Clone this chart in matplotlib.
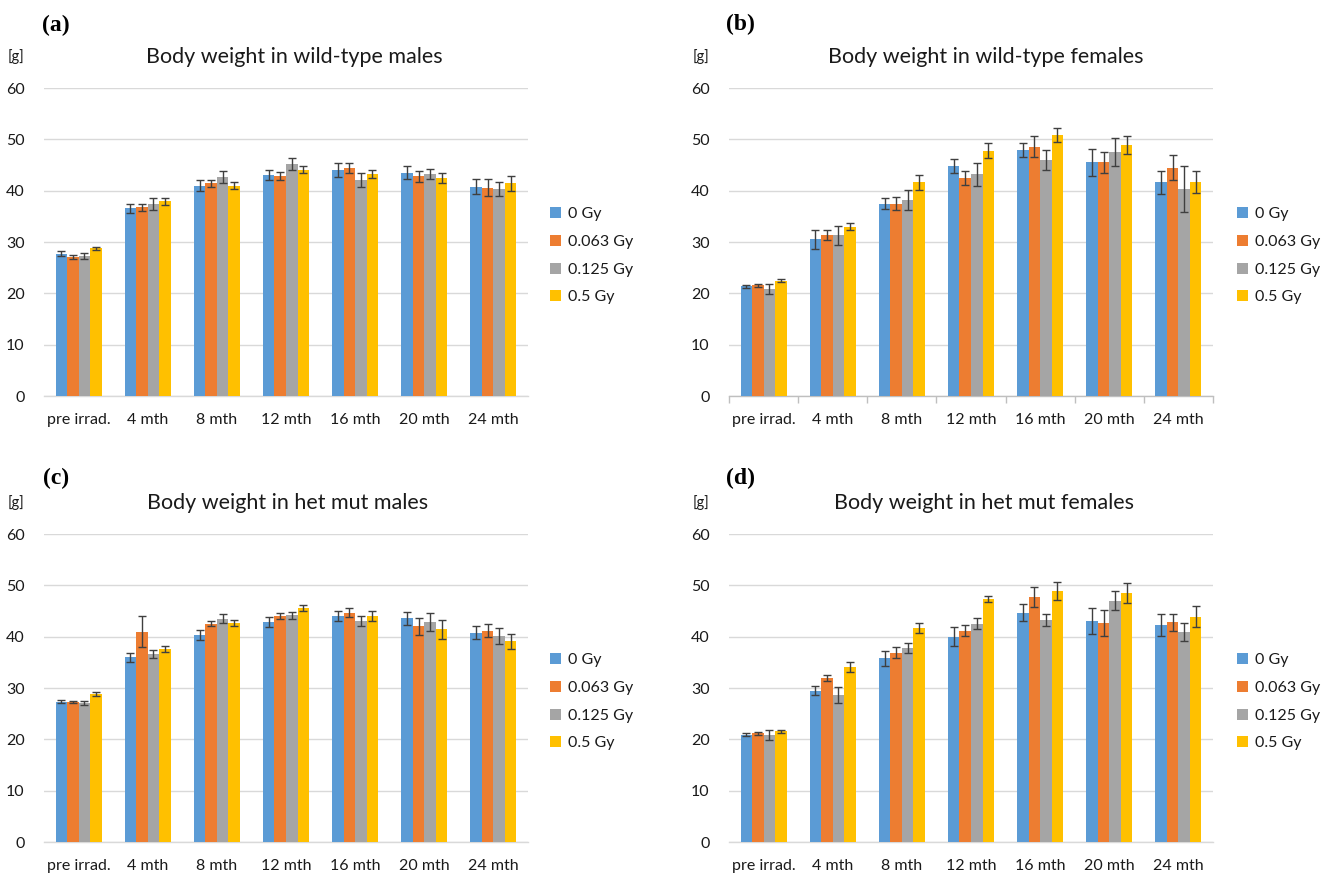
import matplotlib
matplotlib.use("Agg")
import matplotlib.pyplot as plt
import numpy as np

plt.rcParams['font.family'] = ['Lato', 'DejaVu Sans']

categories = ["pre irrad.", "4 mth", "8 mth", "12 mth", "16 mth", "20 mth", "24 mth"]
doses = ["0 Gy", "0.063 Gy", "0.125 Gy", "0.5 Gy"]
colors = ["#5B9BD5", "#ED7D31", "#A5A5A5", "#FFC000"]

# (a) wild-type males
wt_m_0 = [27.7, 36.6, 41.0, 43.0, 44.0, 43.5, 40.8]
wt_m_063 = [27.1, 36.8, 41.4, 42.9, 44.4, 42.8, 40.6]
wt_m_125 = [27.3, 37.4, 42.7, 45.2, 42.1, 43.2, 40.3]
wt_m_5 = [28.8, 37.9, 41.0, 44.1, 43.2, 42.5, 41.4]
wt_m_err_0 = [0.5, 0.9, 1.0, 1.0, 1.3, 1.3, 1.5]
wt_m_err_063 = [0.4, 0.7, 0.6, 0.8, 1.0, 1.1, 1.7]
wt_m_err_125 = [0.6, 1.2, 1.2, 1.2, 1.3, 1.0, 1.4]
wt_m_err_5 = [0.3, 0.6, 0.6, 0.7, 0.8, 1.0, 1.4]

# (b) wild-type females
wt_f_0 = [21.4, 30.5, 37.5, 44.8, 47.9, 45.5, 41.6]
wt_f_063 = [21.6, 31.4, 37.5, 42.5, 48.6, 45.5, 44.5]
wt_f_125 = [20.8, 31.3, 38.2, 43.2, 46.0, 47.5, 40.3]
wt_f_5 = [22.5, 33.0, 41.6, 47.8, 50.8, 48.9, 41.7]
wt_f_err_0 = [0.3, 1.8, 1.0, 1.4, 1.4, 2.6, 2.2]
wt_f_err_063 = [0.3, 1.0, 1.2, 1.3, 2.0, 2.1, 2.4]
wt_f_err_125 = [1.0, 1.9, 2.0, 2.2, 2.0, 2.7, 4.5]
wt_f_err_5 = [0.2, 0.7, 1.4, 1.5, 1.4, 1.8, 2.1]

# (c) het mut males
het_m_0 = [27.3, 36.0, 40.3, 42.9, 44.0, 43.6, 40.8]
het_m_063 = [27.3, 41.0, 42.5, 44.0, 44.7, 42.0, 41.2]
het_m_125 = [27.0, 36.6, 43.5, 44.2, 43.1, 42.9, 40.1]
het_m_5 = [28.8, 37.6, 42.6, 45.6, 44.0, 41.4, 39.1]
het_m_err_0 = [0.3, 0.9, 1.0, 1.0, 1.0, 1.3, 1.3]
het_m_err_063 = [0.2, 3.0, 0.5, 0.6, 0.8, 1.7, 1.2]
het_m_err_125 = [0.4, 0.8, 0.9, 0.7, 1.0, 1.7, 1.5]
het_m_err_5 = [0.4, 0.6, 0.6, 0.6, 1.0, 1.8, 1.5]

# (d) het mut females
het_f_0 = [20.9, 29.5, 35.8, 40.0, 44.7, 43.0, 42.3]
het_f_063 = [21.2, 32.0, 36.9, 41.2, 47.7, 42.7, 42.8]
het_f_125 = [20.9, 28.6, 37.8, 42.5, 43.2, 47.0, 40.9]
het_f_5 = [21.6, 34.1, 41.7, 47.3, 48.9, 48.5, 43.9]
het_f_err_0 = [0.3, 0.8, 1.5, 1.9, 1.7, 2.5, 2.1]
het_f_err_063 = [0.3, 0.6, 1.1, 1.1, 1.9, 2.5, 1.6]
het_f_err_125 = [1.0, 1.6, 0.9, 1.1, 1.2, 1.9, 1.8]
het_f_err_5 = [0.3, 0.9, 1.0, 0.6, 1.8, 2.0, 2.1]

titles = ["Body weight in wild-type males", "Body weight in wild-type females",
          "Body weight in het mut males", "Body weight in het mut females"]
panel_letters = ["(a)", "(b)", "(c)", "(d)"]
yticks = [0, 10, 20, 30, 40, 50, 60]

panels = [
    ([wt_m_0, wt_m_063, wt_m_125, wt_m_5], [wt_m_err_0, wt_m_err_063, wt_m_err_125, wt_m_err_5]),
    ([wt_f_0, wt_f_063, wt_f_125, wt_f_5], [wt_f_err_0, wt_f_err_063, wt_f_err_125, wt_f_err_5]),
    ([het_m_0, het_m_063, het_m_125, het_m_5], [het_m_err_0, het_m_err_063, het_m_err_125, het_m_err_5]),
    ([het_f_0, het_f_063, het_f_125, het_f_5], [het_f_err_0, het_f_err_063, het_f_err_125, het_f_err_5]),
]

W, H = 1324, 875
fig = plt.figure(figsize=(W / 100, H / 100), dpi=100)

layout = [
    dict(x0=44, top=88, tcx=294, letter_x=42, letter_y=25, g_x=8, leg_x=550),
    dict(x0=729, top=88, tcx=986, letter_x=726, letter_y=24, g_x=693, leg_x=1237),
    dict(x0=44, top=534, tcx=288, letter_x=43, letter_y=478, g_x=8, leg_x=550),
    dict(x0=729, top=534, tcx=984, letter_x=726, letter_y=478, g_x=693, leg_x=1237),
]
aw, ah = 484, 308
grid_col = "#D9D9D9"
txt_col = "#1a1a1a"

for i, ((means, errs), lay) in enumerate(zip(panels, layout)):
    ax = fig.add_axes([lay['x0'] / W, 1 - (lay['top'] + ah) / H, aw / W, ah / H])
    x = np.arange(len(categories))
    bw = 1 / 6
    for j, (m, e) in enumerate(zip(means, errs)):
        ax.bar(x + (j - 1.5) * bw, m, width=bw, color=colors[j], label=doses[j],
               yerr=e, capsize=2.6, zorder=3,
               error_kw=dict(ecolor="#3F3F3F", elinewidth=1.0, capthick=1.0, zorder=4))
    ax.set_xlim(-0.5, len(categories) - 0.5)
    ax.set_ylim(0, 60)
    ax.set_yticks(yticks)
    ax.set_yticklabels([str(t) for t in yticks])
    ax.set_xticks(x)
    ax.set_xticklabels(categories)
    ax.yaxis.grid(True, color=grid_col, linewidth=1.0, zorder=0)
    ax.set_axisbelow(True)
    for s in ["top", "right", "left"]:
        ax.spines[s].set_visible(False)
    ax.spines["bottom"].set_color(grid_col if i != 1 else "#BFBFBF")
    ax.spines["bottom"].set_linewidth(1.0)
    ax.tick_params(axis="y", length=0, pad=14, labelsize=11.5, labelcolor=txt_col)
    ax.tick_params(axis="x", length=0, pad=12, labelsize=11.5, labelcolor=txt_col)
    if i == 1:
        ax.set_xticks(np.arange(-0.5, len(categories), 1.0), minor=True)
        ax.tick_params(axis="x", which="minor", length=5, color="#BFBFBF", width=1.0)
    fig.text(lay['letter_x'] / W, 1 - lay['letter_y'] / H, panel_letters[i],
             family=['Liberation Serif'], fontweight='bold', fontsize=17,
             ha='left', va='center')
    fig.text(lay['g_x'] / W, 1 - (lay['top'] - 31) / H, "[g]", fontsize=10.5,
             ha='left', va='center', color=txt_col)
    fig.text(lay['tcx'] / W, 1 - (lay['top'] - 31) / H, titles[i], fontsize=15.5,
             ha='center', va='center', color=txt_col)
    leg = ax.legend(loc='upper left', bbox_to_anchor=(lay['leg_x'] / W, 1 - (lay['top'] + 119) / H),
                    bbox_transform=fig.transFigure, frameon=False, fontsize=11.5,
                    handlelength=0.7, handleheight=0.7, handletextpad=0.45,
                    labelspacing=0.85, borderaxespad=0, borderpad=0)
    for t in leg.get_texts():
        t.set_color(txt_col)

fig.savefig("out.png", dpi=100)
